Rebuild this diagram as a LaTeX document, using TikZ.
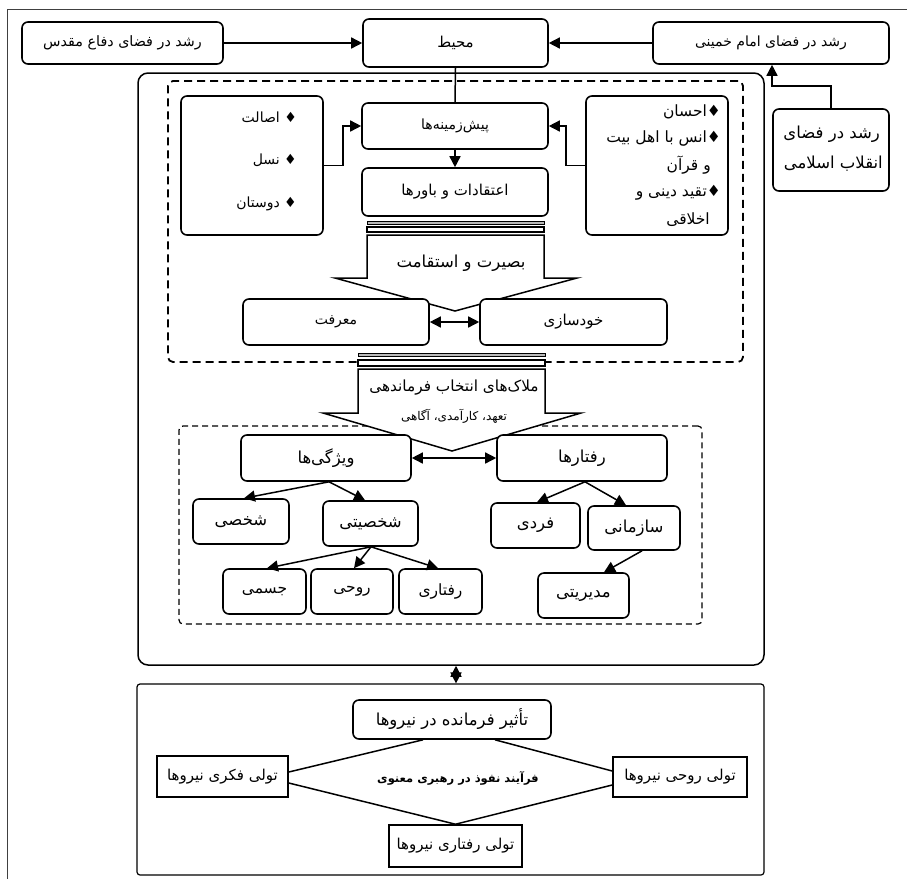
\documentclass[tikz,border=0pt]{standalone}
\usepackage{fontspec}
\TeXXeTstate=1
\newfontfamily\fa[Script=Arabic]{DejaVu Sans}
\usetikzlibrary{arrows.meta}
\newcommand\rtl[1]{\beginR#1\endR}
\tikzset{
  base/.style={inner sep=0pt, font=\fa\fontsize{15}{17}\selectfont},
  rbox/.style={base, draw, line width=1.6pt, rounded corners=6pt, fill=white},
  lbox/.style={rbox, font=\fa\fontsize{16.5}{18}\selectfont},
  sbox/.style={base, draw, line width=1.6pt, fill=white},
  txt/.style={base},
  tip/.tip={Triangle[length=11pt,width=11pt]},
  arr/.style={line width=1.5pt, -tip},
  dbl/.style={line width=1.5pt, tip-tip},
  plain/.style={line width=1.5pt},
  blockarrow/.style={line width=1.5pt, fill=white, line join=miter},
  graybar/.style={line width=0.9pt, fill=gray!55},
  whitebar/.style={line width=1.1pt, fill=white}
}
\begin{document}
\begin{tikzpicture}[x=1pt,y=-1pt]
\useasboundingbox (0,0) rectangle (907,879);
\draw[line width=1pt, black!75] (907,9) -- (7,9) -- (7,879);

% containers
\node[draw, line width=1.5pt, rounded corners=10pt, minimum width=626pt, minimum height=592pt, inner sep=0pt] (big) at (451,369) {};
\node[draw, line width=1.8pt, dash pattern=on 8pt off 5pt, rounded corners=5pt, minimum width=575pt, minimum height=281pt, inner sep=0pt] (dsh1) at (455.5,221.5) {};
\node[draw, line width=1.2pt, dash pattern=on 6pt off 4pt, rounded corners=4pt, minimum width=523pt, minimum height=198pt, inner sep=0pt] (dsh2) at (440.5,525) {};
\node[draw, line width=1.2pt, rounded corners=3pt, minimum width=627pt, minimum height=191pt, inner sep=0pt] (low) at (450.5,779.5) {};

% top row
\node[rbox, font=\fa\fontsize{14.3}{16}\selectfont, minimum width=201pt, minimum height=42pt] (defa) at (122.5,43) {\rtl{رشد در فضای دفاع مقدس}};
\node[rbox, minimum width=185pt, minimum height=48pt] (mohit) at (455.5,43) {\rtl{محیط}};
\node[rbox, font=\fa\fontsize{14}{16}\selectfont, minimum width=236pt, minimum height=42pt] (emam) at (771,43) {\rtl{رشد در فضای امام خمینی}};
\node[rbox, minimum width=116pt, minimum height=82pt] (enghelab) at (831,150) {};
\node[txt, font=\fa\fontsize{16.5}{18}\selectfont, anchor=east] (eng1) at (880,134) {\rtl{رشد در فضای}};
\node[txt, font=\fa\fontsize{16.5}{18}\selectfont, anchor=east] (eng2) at (883,164) {\rtl{انقلاب اسلامی}};

\draw[arr] (defa.east) -- (mohit.west);
\draw[arr] (emam.west) -- (mohit.east);
\draw[arr] (enghelab.north) -- ++(0,-22) -| ([xshift=1pt]emam.south);

% block arrow 1
\draw[graybar] (367,221) rectangle (544,224);
\draw[whitebar] (367,227) rectangle (544,232);
\draw[blockarrow] (367,235) -- (544,235) -- (544,278) -- (577,278) -- (455,311) -- (335,278) -- (367,278) -- cycle;
\node[txt, font=\fa\fontsize{16.5}{18}\selectfont] (basirat) at (461,263) {\rtl{بصیرت و استقامت}};

% block arrow 2
\draw[graybar] (358,353) rectangle (545,356);
\draw[whitebar] (358,360) rectangle (545,366);
\draw[blockarrow] (358,369) -- (545,369) -- (545,413) -- (581,413) -- (452,451) -- (323,413) -- (358,413) -- cycle;
\node[txt, font=\fa\fontsize{15.3}{17}\selectfont] (malak) at (454,388) {\rtl{ملاک‌های انتخاب فرماندهی}};
\node[txt, font=\fa\fontsize{12}{14}\selectfont] (taahod) at (454,416) {\rtl{تعهد، کارآمدی، آگاهی}};

% upper dashed region
\node[rbox, minimum width=142pt, minimum height=139pt] (lb) at (252,165.5) {};
\node[txt, font=\fa\fontsize{14}{16}\selectfont, anchor=east] (lb1) at (297,117) {\rtl{♦ اصالت}};
\node[txt, font=\fa\fontsize{14}{16}\selectfont, anchor=east] (lb2) at (297,160) {\rtl{♦ نسل}};
\node[txt, font=\fa\fontsize{14}{16}\selectfont, anchor=east] (lb3) at (297,204) {\rtl{♦ دوستان}};

\node[rbox, minimum width=142pt, minimum height=139pt] (rb) at (657,165.5) {};
\node[txt, font=\fa\fontsize{15.5}{17}\selectfont, anchor=east] (rb1) at (721,112) {\rtl{♦احسان}};
\node[txt, font=\fa\fontsize{15.5}{17}\selectfont, anchor=east] (rb2) at (721,138) {\rtl{♦انس با اهل بیت}};
\node[txt, font=\fa\fontsize{15.5}{17}\selectfont, anchor=east] (rb3) at (711,165) {\rtl{و قرآن}};
\node[txt, font=\fa\fontsize{15.5}{17}\selectfont, anchor=east] (rb4) at (721,193) {\rtl{♦تقید دینی و}};
\node[txt, font=\fa\fontsize{15.5}{17}\selectfont, anchor=east] (rb5) at (710,220) {\rtl{اخلاقی}};

\node[rbox, font=\fa\fontsize{14}{16}\selectfont, minimum width=186pt, minimum height=46pt] (pish) at (455,126) {\rtl{پیش‌زمینه‌ها}};
\node[rbox, minimum width=186pt, minimum height=48pt] (eteghad) at (455,192) {\rtl{اعتقادات و باورها}};
\node[rbox, font=\fa\fontsize{14}{16}\selectfont, minimum width=186pt, minimum height=46pt] (marefat) at (336,322) {\rtl{معرفت}};
\node[rbox, minimum width=187pt, minimum height=46pt] (khod) at (573.5,322) {\rtl{خودسازی}};

\draw[plain] (mohit.south) -- (pish.north);
\draw[arr] (pish.south) -- (eteghad.north);
\draw[arr] (lb.east) -- ++(19,0) |- (pish.west);
\draw[arr] (rb.west) -- ++(-19,0) |- (pish.east);
\draw[dbl] (marefat.east) -- (khod.west);

% lower dashed region
\node[lbox, minimum width=170pt, minimum height=46pt] (vizh) at (326,458) {\rtl{ویژگی‌ها}};
\node[lbox, minimum width=170pt, minimum height=46pt] (raft) at (582,458) {\rtl{رفتارها}};
\node[lbox, minimum width=96pt, minimum height=45pt] (shakhsi) at (241,521.5) {\rtl{شخصی}};
\node[lbox, minimum width=95pt, minimum height=45pt] (shakhsiati) at (370.5,523.5) {\rtl{شخصیتی}};
\node[lbox, minimum width=89pt, minimum height=45pt] (fardi) at (535.5,525.5) {\rtl{فردی}};
\node[lbox, minimum width=92pt, minimum height=44pt] (sazmani) at (634,528) {\rtl{سازمانی}};
\node[lbox, font=\fa\fontsize{15.5}{17}\selectfont, minimum width=83pt, minimum height=45pt] (jesmi) at (264.5,591.5) {\rtl{جسمی}};
\node[lbox, font=\fa\fontsize{15.5}{17}\selectfont, minimum width=82pt, minimum height=45pt] (ruhi) at (352,591.5) {\rtl{روحی}};
\node[lbox, font=\fa\fontsize{15.5}{17}\selectfont, minimum width=83pt, minimum height=45pt] (raftari) at (440.5,591.5) {\rtl{رفتاری}};
\node[lbox, minimum width=91pt, minimum height=45pt] (modir) at (583.5,595.5) {\rtl{مدیریتی}};

\draw[dbl] (vizh.east) -- (raft.west);
\draw[arr] ([xshift=3pt]vizh.south) -- ([xshift=3pt]shakhsi.north);
\draw[arr] ([xshift=3pt]vizh.south) -- ([xshift=-5.5pt]shakhsiati.north);
\draw[arr] ([xshift=3pt]raft.south) -- ([xshift=1.5pt]fardi.north);
\draw[arr] ([xshift=3pt]raft.south) -- ([xshift=-8pt]sazmani.north);
\draw[arr] ([xshift=0.5pt]shakhsiati.south) -- ([xshift=2.5pt]jesmi.north);
\draw[arr] ([xshift=0.5pt]shakhsiati.south) -- ([xshift=2pt]ruhi.north);
\draw[arr] ([xshift=0.5pt]shakhsiati.south) -- ([xshift=-2.5pt]raftari.north);
\draw[arr] ([xshift=8pt]sazmani.south) -- ([xshift=20.5pt]modir.north);

% link between containers
\draw[dbl] ([xshift=5pt]big.south) -- ([xshift=5.5pt]low.north);

% bottom section
\node[rbox, font=\fa\fontsize{16.5}{18}\selectfont, minimum width=198pt, minimum height=39pt] (tasir) at (452,719.5) {\rtl{تأثیر فرمانده در نیروها}};
\node[sbox, minimum width=131pt, minimum height=41pt] (fekri) at (222.5,776.5) {\rtl{تولی فکری نیروها}};
\node[sbox, minimum width=134pt, minimum height=40pt] (ruhiN) at (680,777) {\rtl{تولی روحی نیروها}};
\node[sbox, minimum width=133pt, minimum height=42pt] (raftariN) at (455.5,846) {\rtl{تولی رفتاری نیروها}};
\node[txt, font=\fa\bfseries\fontsize{11.5}{14}\selectfont] (farayand) at (458,778) {\rtl{فرآیند نفوذ در رهبری معنوی}};

\draw[plain] ([xshift=-29pt]tasir.south) -- ([yshift=4.5pt]fekri.east);
\draw[plain] ([yshift=-6.5pt]fekri.east) -- (raftariN.north);
\draw[plain] (raftariN.north) -- ([yshift=-8pt]ruhiN.west);
\draw[plain] ([yshift=6pt]ruhiN.west) -- ([xshift=43pt]tasir.south);
\end{tikzpicture}
\end{document}
